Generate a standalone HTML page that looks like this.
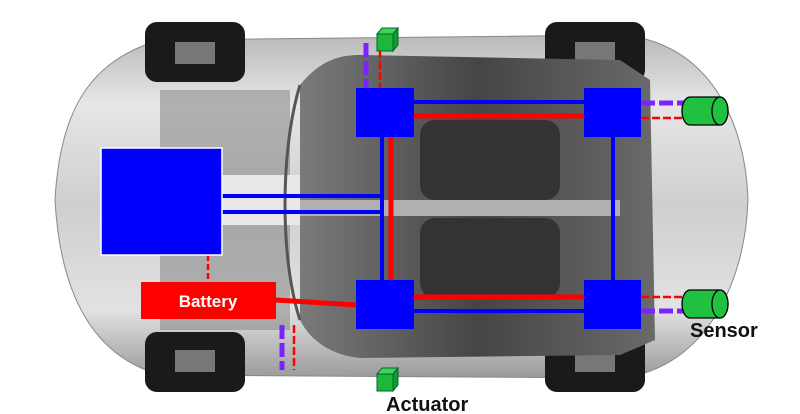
<!DOCTYPE html>
<html><head><meta charset="utf-8"><style>
html,body{margin:0;padding:0;background:#fff;}
svg{display:block}
text{font-family:"Liberation Sans",sans-serif;font-weight:bold}
</style></head><body>
<svg width="800" height="414" viewBox="0 0 800 414" xmlns="http://www.w3.org/2000/svg">
<defs>
<linearGradient id="body" x1="0" y1="0" x2="0" y2="1">
<stop offset="0" stop-color="#b9b9b9"/><stop offset="0.2" stop-color="#e6e6e6"/>
<stop offset="0.5" stop-color="#cfcfcf"/><stop offset="0.8" stop-color="#e2e2e2"/><stop offset="1" stop-color="#9a9a9a"/>
</linearGradient>
<linearGradient id="cab" x1="0" y1="0" x2="1" y2="0">
<stop offset="0" stop-color="#7a7a7a"/><stop offset="0.5" stop-color="#454545"/><stop offset="1" stop-color="#6a6a6a"/>
</linearGradient>
</defs>
<path d="M55,200 C60,110 90,60 160,40 L620,35 C700,40 745,110 748,200 C745,290 700,370 620,378 L160,375 C90,355 60,290 55,200 Z" fill="url(#body)" stroke="#888" stroke-width="1"/>
<rect x="145" y="22" width="100" height="60" rx="12" fill="#1a1a1a"/>
<rect x="145" y="332" width="100" height="60" rx="12" fill="#1a1a1a"/>
<rect x="545" y="22" width="100" height="60" rx="12" fill="#1a1a1a"/>
<rect x="545" y="332" width="100" height="60" rx="12" fill="#1a1a1a"/>
<rect x="175" y="42" width="40" height="22" fill="#777"/>
<rect x="175" y="350" width="40" height="22" fill="#777"/>
<rect x="575" y="42" width="40" height="22" fill="#777"/>
<rect x="575" y="350" width="40" height="22" fill="#777"/>
<rect x="160" y="90" width="130" height="240" fill="#8c8c8c" opacity="0.6"/>
<rect x="222" y="175" width="80" height="50" fill="#e8e8e8"/>
<path d="M300,85 C320,60 340,55 360,55 L620,60 L650,80 L655,340 L620,355 L360,358 C330,355 310,340 300,320 Z" fill="url(#cab)"/>
<path d="M300,85 C280,150 280,260 300,320" fill="none" stroke="#555" stroke-width="3"/>
<rect x="420" y="120" width="140" height="80" rx="15" fill="#333"/>
<rect x="420" y="218" width="140" height="80" rx="15" fill="#333"/>
<rect x="300" y="200" width="320" height="16" fill="#b0b0b0"/>
<line x1="366" y1="43" x2="366" y2="88" stroke="#7a22ff" stroke-width="5" stroke-dasharray="14,4"/>
<line x1="380" y1="50" x2="380" y2="88" stroke="#f00" stroke-width="2.5" stroke-dasharray="8,3"/>
<line x1="282" y1="325" x2="282" y2="370" stroke="#7a22ff" stroke-width="5" stroke-dasharray="14,4"/>
<line x1="294" y1="325" x2="294" y2="370" stroke="#f00" stroke-width="2.5" stroke-dasharray="8,3"/>
<line x1="208" y1="255" x2="208" y2="282" stroke="#f00" stroke-width="2.5" stroke-dasharray="6,3"/>
<line x1="641" y1="103" x2="684" y2="103" stroke="#7a22ff" stroke-width="5" stroke-dasharray="14,4"/>
<line x1="641" y1="118" x2="684" y2="118" stroke="#f00" stroke-width="2.5" stroke-dasharray="8,3"/>
<line x1="641" y1="297" x2="684" y2="297" stroke="#f00" stroke-width="2.5" stroke-dasharray="8,3"/>
<line x1="641" y1="311" x2="684" y2="311" stroke="#7a22ff" stroke-width="5" stroke-dasharray="14,4"/>
<line x1="414" y1="102" x2="584" y2="102" stroke="#00f" stroke-width="4"/>
<line x1="414" y1="116" x2="584" y2="116" stroke="#f00" stroke-width="5"/>
<line x1="414" y1="297" x2="584" y2="297" stroke="#f00" stroke-width="5"/>
<line x1="414" y1="311" x2="584" y2="311" stroke="#00f" stroke-width="4"/>
<line x1="382" y1="136" x2="382" y2="280" stroke="#00f" stroke-width="4"/>
<line x1="391" y1="136" x2="391" y2="280" stroke="#f00" stroke-width="5"/>
<line x1="613" y1="136" x2="613" y2="280" stroke="#00f" stroke-width="4"/>
<polyline points="222,196 382,196" stroke="#00f" stroke-width="4" fill="none"/>
<polyline points="222,212 384,212" stroke="#00f" stroke-width="4" fill="none"/>
<line x1="276" y1="300" x2="357" y2="305" stroke="#f00" stroke-width="5"/>
<rect x="101" y="148" width="121" height="107" fill="#00f" stroke="#fff" stroke-width="1.5"/>
<rect x="356" y="88" width="58" height="49" fill="#00f"/>
<rect x="584" y="88" width="57" height="49" fill="#00f"/>
<rect x="356" y="280" width="58" height="49" fill="#00f"/>
<rect x="584" y="280" width="57" height="49" fill="#00f"/>
<rect x="141" y="282" width="135" height="37" fill="#f00"/>
<text x="208" y="307" font-size="17" fill="#fff" text-anchor="middle">Battery</text>
<g stroke="#063" stroke-width="1">
<polygon points="377,34 393,34 393,51 377,51" fill="#1db83a"/>
<polygon points="377,34 382,28 398,28 393,34" fill="#3fd35a"/>
<polygon points="393,34 398,28 398,45 393,51" fill="#159a2e"/>
<polygon points="377,374 393,374 393,391 377,391" fill="#1db83a"/>
<polygon points="377,374 382,368 398,368 393,374" fill="#3fd35a"/>
<polygon points="393,374 398,368 398,385 393,391" fill="#159a2e"/>
</g>
<g stroke="#000" stroke-width="1.3" fill="#20c040">
<path d="M690,97 L720,97 A8,14 0 0 1 720,125 L690,125 A8,14 0 0 1 690,97 Z"/>
<ellipse cx="720" cy="111" rx="8" ry="14"/>
<path d="M690,290 L720,290 A8,14 0 0 1 720,318 L690,318 A8,14 0 0 1 690,290 Z"/>
<ellipse cx="720" cy="304" rx="8" ry="14"/>
</g>
<text x="690" y="337" font-size="20" fill="#111">Sensor</text>
<text x="386" y="411" font-size="20" fill="#111">Actuator</text>
</svg>
</body></html>
